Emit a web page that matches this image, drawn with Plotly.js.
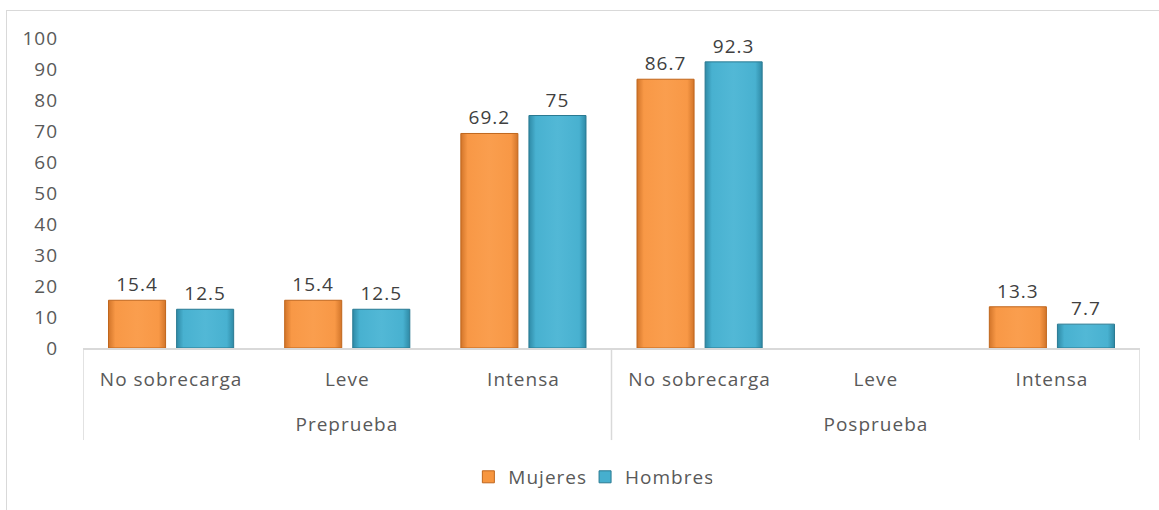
<!DOCTYPE html>
<html>
<head>
<meta charset="utf-8">
<script src="https://cdn.plot.ly/plotly-3.0.1.min.js"></script>
<style>
  html, body { margin: 0; padding: 0; background: #ffffff; }
  #frame { position: absolute; left: 6px; top: 10px; width: 1200px; height: 600px;
           border-left: 1px solid #d9d9d9; border-top: 1px solid #d9d9d9; }
  #chart { position: absolute; left: 0; top: 0; width: 1159px; height: 510px; }
  #chart svg text { letter-spacing: 1px; }
</style>
</head>
<body>
<div id="frame"></div>
<div id="chart"></div>
<script>
// Phases (outer level) and overload levels (inner level)
const phases = ["Preprueba", "Preprueba", "Preprueba", "Posprueba", "Posprueba", "Posprueba"];
const levels = ["No sobrecarga", "Leve", "Intensa", "No sobrecarga", "Leve", "Intensa"];

// Percentages per group
const mujeres = [15.4, 15.4, 69.2, 86.7, null, 13.3];
const hombres = [12.5, 12.5, 75, 92.3, null, 7.7];

const yTicks = [0, 10, 20, 30, 40, 50, 60, 70, 80, 90, 100];

const FONT = "Open Sans, Lato, sans-serif";
const idx = levels.map((_, i) => i);

function series(name, values, fill, edge) {
  return {
    type: "bar",
    name: name,
    x: idx,
    y: values,
    text: values.map(v => (v === null ? "" : String(v))),
    textposition: "outside",
    textfont: { family: FONT, size: 19, color: "#404040" },
    cliponaxis: false,
    marker: { color: fill, line: { color: edge, width: 1 } },
    hoverinfo: "y+name"
  };
}

const data = [
  series("Mujeres", mujeres, "#f7963f", "#c0661c"),
  series("Hombres", hombres, "#46afce", "#2a7a92")
];

// Outer-level phase groups: label centred under its categories, divider lines at the edges
const groups = [];
phases.forEach((p, i) => {
  const g = groups.length ? groups[groups.length - 1] : null;
  if (g && g.name === p) g.end = i; else groups.push({ name: p, start: i, end: i });
});

const lineColor = "#d9d9d9";
const shapes = [];
const annotations = [];
groups.forEach((g, k) => {
  if (k === 0) {
    shapes.push({ type: "line", xref: "x", yref: "paper", x0: g.start - 0.5, x1: g.start - 0.5,
                  y0: 0, y1: -0.297, line: { color: lineColor, width: 1.5 } });
  }
  shapes.push({ type: "line", xref: "x", yref: "paper", x0: g.end + 0.5, x1: g.end + 0.5,
                y0: 0, y1: -0.297, line: { color: lineColor, width: 1.5 } });
  annotations.push({ xref: "x", yref: "paper", x: (g.start + g.end) / 2, y: -0.245,
                     yanchor: "middle", showarrow: false, text: g.name,
                     font: { family: FONT, size: 19, color: "#595959" } });
});

const layout = {
  width: 1159,
  height: 510,
  margin: { l: 83, r: 19, t: 38, b: 162 },
  paper_bgcolor: "rgba(0,0,0,0)",
  plot_bgcolor: "rgba(0,0,0,0)",
  barmode: "group",
  bargap: 0.227,
  bargroupgap: 0.162,
  showlegend: true,
  legend: {
    orientation: "h",
    x: 0.48, xanchor: "center",
    y: -0.416, yanchor: "middle",
    font: { family: FONT, size: 19, color: "#595959" },
    itemwidth: 30,
    traceorder: "normal"
  },
  shapes: shapes,
  annotations: annotations,
  xaxis: {
    range: [-0.5, levels.length - 0.5],
    tickmode: "array",
    tickvals: idx,
    ticktext: levels,
    showline: true,
    linecolor: lineColor,
    linewidth: 1.5,
    tickfont: { family: FONT, size: 19, color: "#595959" },
    ticks: "",
    ticklabelstandoff: 14,
    showgrid: false,
    zeroline: false
  },
  yaxis: {
    range: [0, 100],
    tickmode: "array",
    tickvals: yTicks,
    ticktext: yTicks.map(String),
    showgrid: false,
    zeroline: false,
    showline: false,
    ticks: "",
    ticklabelstandoff: 24,
    tickfont: { family: FONT, size: 19, color: "#595959" }
  }
};

// Bevelled look for the bars: darker sides, lighter centre
function addBevel(gd) {
  const svg = gd.querySelector("svg.main-svg");
  const ns = "http://www.w3.org/2000/svg";
  let defs = svg.querySelector("defs");
  if (!defs) { defs = document.createElementNS(ns, "defs"); svg.insertBefore(defs, svg.firstChild); }
  const palettes = [
    { id: "bevelMujeres", stops: ["#d2752a", "#f89846", "#fa9e4e", "#f89846", "#d2752a"] },
    { id: "bevelHombres", stops: ["#2f8aa6", "#48b1d0", "#52b8d6", "#48b1d0", "#2f8aa6"] }
  ];
  const offsets = [0, 0.12, 0.5, 0.88, 1];
  palettes.forEach(p => {
    const lg = document.createElementNS(ns, "linearGradient");
    lg.setAttribute("id", p.id);
    lg.setAttribute("x1", "0"); lg.setAttribute("x2", "1");
    lg.setAttribute("y1", "0"); lg.setAttribute("y2", "0");
    p.stops.forEach((c, i) => {
      const s = document.createElementNS(ns, "stop");
      s.setAttribute("offset", offsets[i]);
      s.setAttribute("stop-color", c);
      lg.appendChild(s);
    });
    defs.appendChild(lg);
  });
  gd.querySelectorAll(".barlayer .trace").forEach((tr, t) => {
    tr.querySelectorAll(".point path").forEach(path => {
      path.style.fill = "url(#" + palettes[t].id + ")";
    });
  });
}

Plotly.newPlot("chart", data, layout, { displayModeBar: false, staticPlot: true })
  .then(addBevel);
</script>
</body>
</html>
